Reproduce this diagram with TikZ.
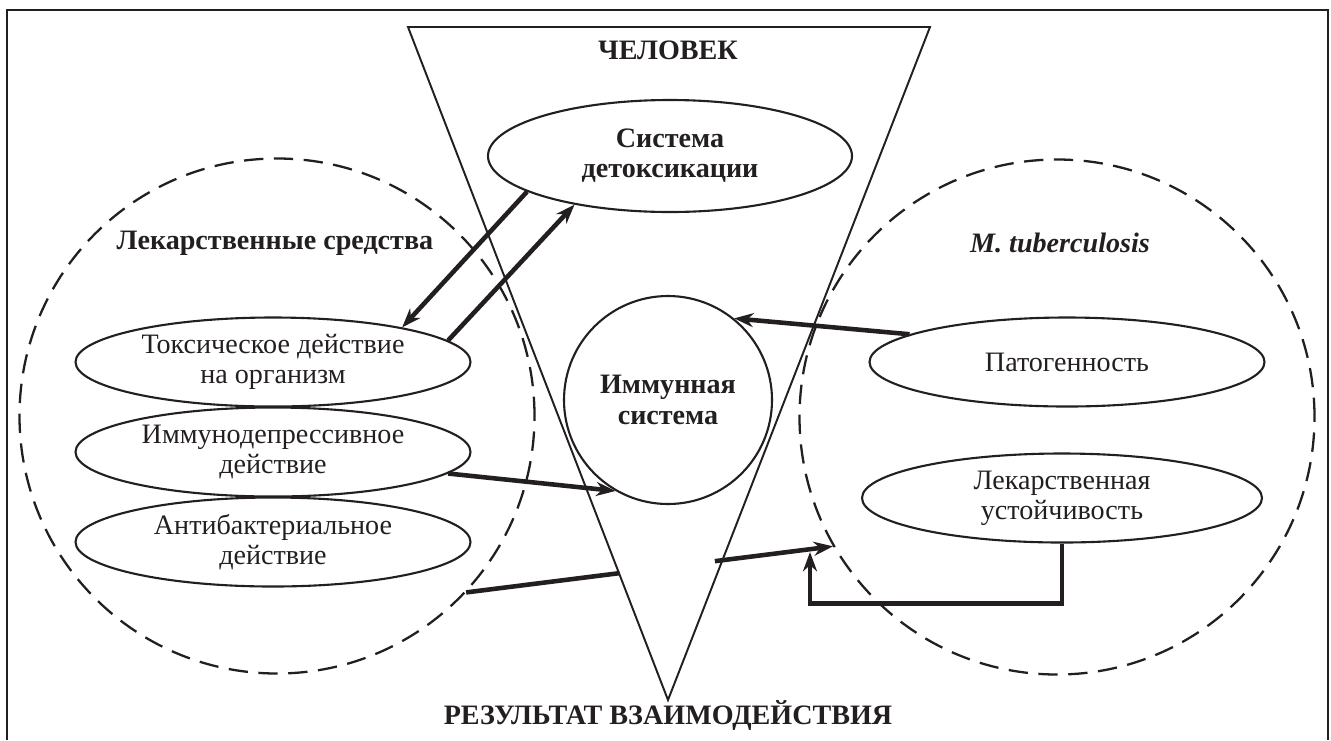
\documentclass[tikz,border=0pt]{standalone}
\usepackage{fontspec}
\setmainfont{Liberation Serif}
\usepackage{tikz}
\usetikzlibrary{arrows.meta}
\usetikzlibrary{calc}
\usetikzlibrary{positioning}
\usetikzlibrary{shapes}
\definecolor{ink}{RGB}{35,31,32}

\begin{document}
\begin{tikzpicture}[>={Stealth[length=11pt,width=8pt]}, node distance=1.8cm,
	align=center, color=ink, font=\fontsize{16}{17.2}\selectfont,
	effect/.style={ellipse, draw, line width=1.2pt, inner sep=0pt,
				minimum width=7.9cm, minimum height=1.78cm},
	zone/.style={circle, draw, line width=1.3pt, inner sep=0pt,
				dash pattern=on 11pt off 6pt, minimum size=10.3cm},
	link/.style={->, line width=2.6pt},
	title/.style={font=\fontsize{16}{17.2}\selectfont\bfseries},
]
\useasboundingbox (0,0) rectangle (26.62,-14.8);
\draw [line width=1.3pt] (0.14,-14.8) |- (26.56,-0.2) -- (26.56,-14.8);
% zones
\node [zone] (drugs) at (5.54,-8.32) {};
\node [zone] (mtb) at (21.14,-8.34) {};
% person
\draw [line width=1.1pt] (8.16,-0.54) -- (18.6,-0.54) -- (13.36,-14.0) -- cycle;
\node [title] (man) at (13.36,-1.0) {ЧЕЛОВЕК};
\node [effect, title, minimum width=7.28cm, minimum height=2.24cm] (detox)
	at (13.4,-3.12) {Система\\детоксикации};
\node [circle, draw, line width=1.2pt, minimum size=4.16cm, title] (imm)
	at (13.36,-8.0) {Иммунная\\система};
\node [title] (res) at (13.36,-14.32) {РЕЗУЛЬТАТ ВЗАИМОДЕЙСТВИЯ};
% drugs
\node [title] (drugsl) at (5.5,-4.86) {Лекарственные средства};
\node [effect] (tox) at (5.46,-7.24) {Токсическое действие\\на организм};
\node [effect] (imd) [below of=tox] {Иммунодепрессивное\\действие};
\node [effect] (abd) [below of=imd] {Антибактериальное\\действие};
% mycobacterium
\node [title] (mtbl) at (21.2,-4.86) {\itshape M. tuberculosis};
\node [effect] (pat) at (21.34,-7.24) {Патогенность};
\node [effect, minimum width=8cm] (ust) at (21.24,-9.96) {Лекарственная\\устойчивость};
\coordinate (ret) at (16.2,-11.04);
%
\draw [link] (detox.194) -- (tox.15);
\draw [link] (tox.7) -- (detox.207);
\draw [link] (pat.170) -- (imm.51);
\draw [link] (imd.-7) -- (imm.240);
\draw [line width=2.6pt] (drugs.-43) -- ($(drugs.-43)!0.418!(mtb.210)$);
\draw [link] ($(drugs.-43)!0.678!(mtb.210)$) -- (mtb.210);
\draw [link] (ust.south) -- ++(0,-1.2) -| (ret);
\end{tikzpicture}
\end{document}
